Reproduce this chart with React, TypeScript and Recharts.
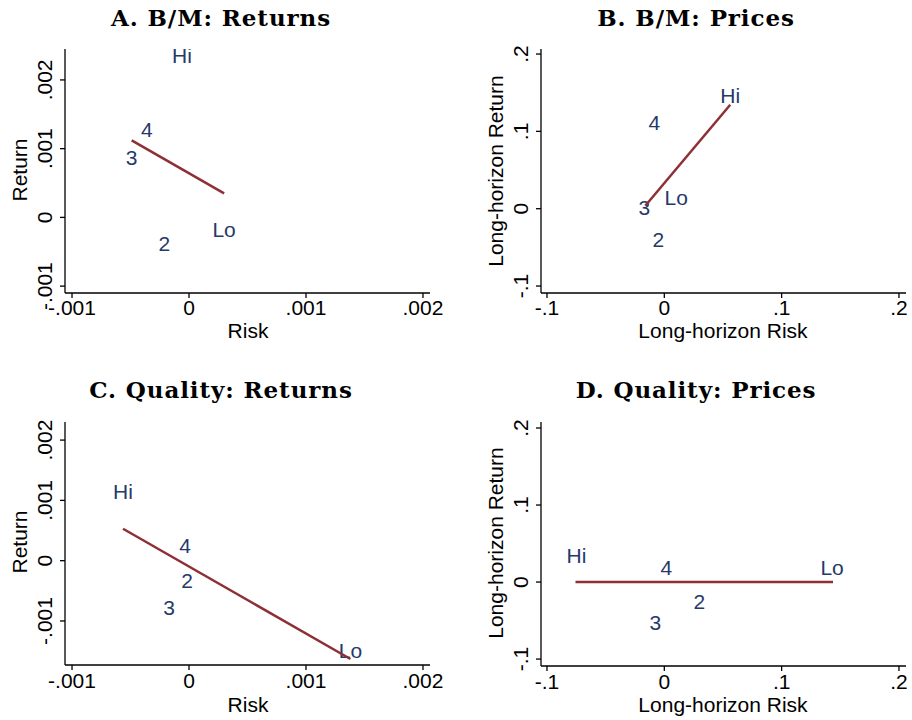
import React from "react";
import { ScatterChart, Scatter, XAxis, YAxis } from "recharts";

const SANS = "'Liberation Sans', Arial, sans-serif";
const SERIF = "'DejaVu Serif', serif";
const NAVY = "#26396b";
const MAROON = "#8e2f35";

const groups = ["Lo", "2", "3", "4", "Hi"];

// A. B/M: Returns
const bmRetRisk = [0.0003, -0.00021, -0.00049, -0.00036, -0.00006];
const bmRetReturn = [-0.00017, -0.00038, 0.00087, 0.00128, 0.00236];
const bmRetFitRisk = [-0.00049, 0.0003];
const bmRetFitReturn = [0.00112, 0.00035];

// B. B/M: Prices
const bmPrRisk = [0.0102, -0.005, -0.017, -0.0085, 0.0562];
const bmPrReturn = [0.0142, -0.04, 0.0013, 0.111, 0.146];
const bmPrFitRisk = [-0.0162, 0.0562];
const bmPrFitReturn = [0.0039, 0.1345];

// C. Quality: Returns
const qRetRisk = [0.00138, -0.000017, -0.00017, -0.000034, -0.000564];
const qRetReturn = [-0.00149, -0.00033, -0.00078, 0.00025, 0.00114];
const qRetFitRisk = [-0.000564, 0.00138];
const qRetFitReturn = [0.00053, -0.00163];

// D. Quality: Prices
const qPrRisk = [0.143, 0.0298, -0.0077, 0.0017, -0.0749];
const qPrReturn = [0.0195, -0.0247, -0.053, 0.0195, 0.035];
const qPrFitRisk = [-0.0757, 0.1438];
const qPrFitReturn = [0, 0];

const smallTicks = [-0.001, 0, 0.001, 0.002];
const bigTicks = [-0.1, 0, 0.1, 0.2];

function fmt(v: number) {
  if (v === 0) return "0";
  const s = String(Math.abs(v)).replace(/^0/, "");
  return (v < 0 ? "-" : "") + s;
}

function MarkLabel(props: any) {
  const { cx, cy, payload } = props;
  return (
    <text x={cx} y={cy + 7.5} textAnchor="middle" fontFamily={SANS} fontSize={21} fill={NAVY}>
      {payload.label}
    </text>
  );
}

const panels = [
  {
    left: 0, top: 0, mTop: 49, mRight: 26, yW: 65, xH: 67, dy: 17,
    xDomain: [-0.00106, 0.00206], yDomain: [-0.0011, 0.00245], ticks: smallTicks,
    risk: bmRetRisk, ret: bmRetReturn, fitRisk: bmRetFitRisk, fitRet: bmRetFitReturn,
  },
  {
    left: 456, top: 0, mTop: 49, mRight: 6, yW: 85, xH: 67, dy: 17,
    xDomain: [-0.1051, 0.206], yDomain: [-0.109, 0.2065], ticks: bigTicks,
    risk: bmPrRisk, ret: bmPrReturn, fitRisk: bmPrFitRisk, fitRet: bmPrFitReturn,
  },
  {
    left: 0, top: 360, mTop: 62, mRight: 26, yW: 65, xH: 55, dy: 18,
    xDomain: [-0.00106, 0.00206], yDomain: [-0.00173, 0.0023], ticks: smallTicks,
    risk: qRetRisk, ret: qRetReturn, fitRisk: qRetFitRisk, fitRet: qRetFitReturn,
  },
  {
    left: 456, top: 360, mTop: 62, mRight: 6, yW: 85, xH: 54, dy: 18,
    xDomain: [-0.1051, 0.206], yDomain: [-0.109, 0.2078], ticks: bigTicks,
    risk: qPrRisk, ret: qPrReturn, fitRisk: qPrFitRisk, fitRet: qPrFitReturn,
  },
];

function Panel({ cfg }: { cfg: any }) {
  const pts = cfg.risk.map((r: number, i: number) => ({ x: r, y: cfg.ret[i], label: groups[i] }));
  const fit = cfg.fitRisk.map((r: number, i: number) => ({ x: r, y: cfg.fitRet[i] }));
  const axisStyle = { stroke: "#000", strokeWidth: 1.3 };
  return (
    <div style={{ position: "absolute", left: cfg.left, top: cfg.top }}>
      <ScatterChart width={456} height={360} margin={{ top: cfg.mTop, right: cfg.mRight, bottom: 0, left: 0 }}>
        <XAxis
          type="number"
          dataKey="x"
          domain={cfg.xDomain}
          ticks={cfg.ticks}
          interval={0}
          allowDataOverflow
          height={cfg.xH}
          tickSize={5}
          tickMargin={0}
          axisLine={axisStyle}
          tickLine={axisStyle}
          tick={(p: any) => (
            <text x={p.x} y={p.y + cfg.dy} textAnchor="middle" fontFamily={SANS} fontSize={21} fill="#000">
              {fmt(p.payload.value)}
            </text>
          )}
        />
        <YAxis
          type="number"
          dataKey="y"
          domain={cfg.yDomain}
          ticks={cfg.ticks}
          interval={0}
          allowDataOverflow
          width={cfg.yW}
          tickSize={5}
          tickMargin={0}
          axisLine={axisStyle}
          tickLine={axisStyle}
          tick={(p: any) => (
            <text
              x={p.x - 8}
              y={p.y}
              transform={`rotate(-90 ${p.x - 8} ${p.y})`}
              textAnchor="middle"
              fontFamily={SANS}
              fontSize={21}
              fill="#000"
            >
              {fmt(p.payload.value)}
            </text>
          )}
        />
        <Scatter data={pts} shape={MarkLabel} isAnimationActive={false} />
        <Scatter
          data={fit}
          line={{ stroke: MAROON, strokeWidth: 2.5 }}
          shape={() => <g />}
          isAnimationActive={false}
        />
      </ScatterChart>
    </div>
  );
}

export default function App() {
  const title = {
    fontFamily: SERIF, fontWeight: 700, fontSize: 23, fill: "#000",
    textAnchor: "middle" as const, letterSpacing: 0.9,
  };
  const axt = { fontFamily: SANS, fontSize: 21, fill: "#000", textAnchor: "middle" as const };
  return (
    <div style={{ position: "absolute", left: 0, top: 0, width: 912, height: 720, background: "#fff" }}>
      {panels.map((cfg, i) => (
        <Panel key={i} cfg={cfg} />
      ))}
      <svg width={912} height={720} style={{ position: "absolute", left: 0, top: 0, pointerEvents: "none" }}>
        <text x={221} y={26} {...title}>A. B/M: Returns</text>
        <text x={696} y={26} {...title}>B. B/M: Prices</text>
        <text x={221} y={398} {...title}>C. Quality: Returns</text>
        <text x={696} y={398} {...title}>D. Quality: Prices</text>

        <text x={248} y={338} {...axt}>Risk</text>
        <text x={723} y={338} {...axt}>Long-horizon Risk</text>
        <text x={248} y={712} {...axt}>Risk</text>
        <text x={723} y={712} {...axt}>Long-horizon Risk</text>

        <text x={27} y={170} transform="rotate(-90 27 170)" {...axt}>Return</text>
        <text x={503} y={171} transform="rotate(-90 503 171)" {...axt}>Long-horizon Return</text>
        <text x={27} y={542} transform="rotate(-90 27 542)" {...axt}>Return</text>
        <text x={503} y={543} transform="rotate(-90 503 543)" {...axt}>Long-horizon Return</text>
      </svg>
    </div>
  );
}
